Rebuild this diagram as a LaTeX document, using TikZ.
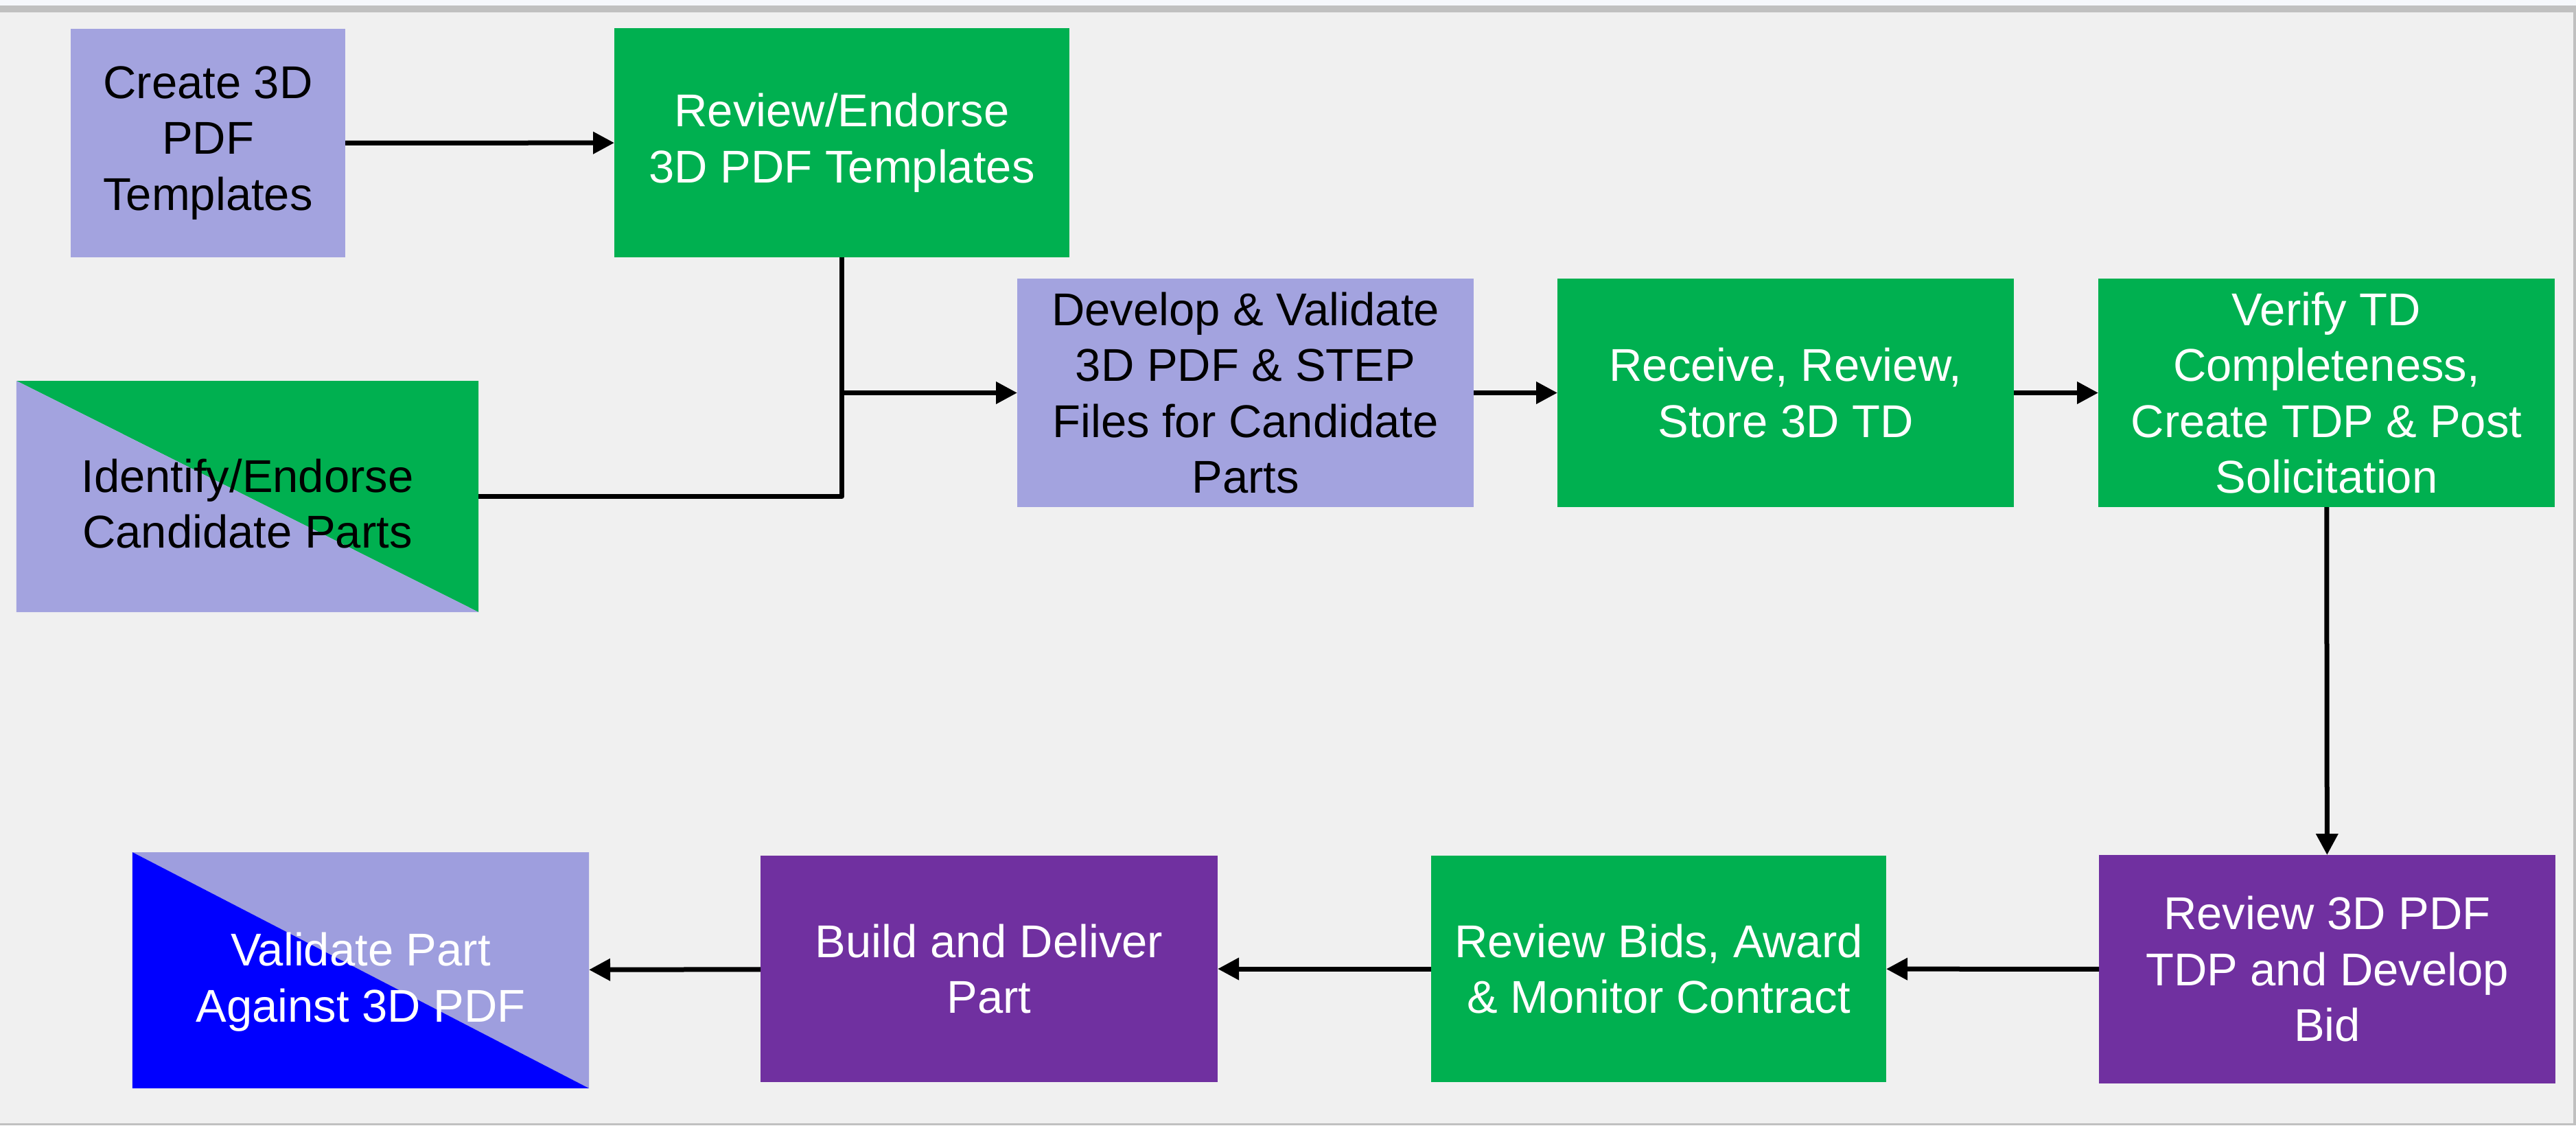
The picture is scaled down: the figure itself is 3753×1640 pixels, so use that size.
\documentclass[tikz,border=0pt]{standalone}
\usepackage{fontspec}
\setmainfont{Liberation Sans}
\usetikzlibrary{arrows.meta}
\definecolor{lav}{HTML}{A3A3DF}
\definecolor{lavb}{HTML}{9E9EDE}
\definecolor{grn}{HTML}{00B050}
\definecolor{pur}{HTML}{7030A0}
\definecolor{blu}{HTML}{0000FF}
\definecolor{bg}{HTML}{F0F0F0}
\definecolor{frame}{HTML}{C0C0C0}
\definecolor{topband}{HTML}{F5F7FB}
\newcommand{\lowtext}[1]{\raisebox{-3.6pt}[\height][\depth]{\begin{tabular}{@{}c@{}}#1\end{tabular}}}
\begin{document}
\begin{tikzpicture}[x=0.2pt,y=-0.2pt,
  box/.style={rectangle,inner sep=0pt,outer sep=0pt,align=center,
    font=\fontsize{13.4pt}{16.3pt}\selectfont,
    minimum width=133pt,minimum height=66.6pt},
  lavbox/.style={box,fill=lav,text=black},
  grnbox/.style={box,fill=grn,text=white},
  purbox/.style={box,fill=pur,text=white},
  conn/.style={line width=1.4pt,line join=round},
  arr/.style={conn,-{Triangle[length=6.2pt,width=6.2pt]}}]
\useasboundingbox (0,0) rectangle (3753,1640);
\fill[bg] (0,0) rectangle (3753,1640);
\fill[topband] (0,0) rectangle (3753,8);
\fill[frame] (0,8) rectangle (3753,18);
\fill[frame] (3749,8) rectangle (3753,1640);
\fill[frame] (0,1637) rectangle (3753,1640);

\node[lavbox,minimum width=80pt] (create) at (303,208.5) {Create 3D\\PDF\\Templates};
\node[grnbox,minimum width=132.6pt] (review) at (1226.5,208) {Review/Endorse\\3D PDF Templates};
\node[box,text=black,minimum width=134.6pt,minimum height=67.4pt,
  path picture={
    \fill[grn] (path picture bounding box.north west) -- (path picture bounding box.north east) -- (path picture bounding box.south east) -- cycle;
    \fill[lav] (path picture bounding box.north west) -- (path picture bounding box.south east) -- (path picture bounding box.south west) -- cycle;
  }] (identify) at (360.5,723.5) {\lowtext{Identify/Endorse\\Candidate Parts}};
\node[lavbox] (develop) at (1814.5,572.5) {Develop \& Validate\\3D PDF \& STEP\\Files for Candidate\\Parts};
\node[grnbox] (receive) at (2601.5,572.5) {Receive, Review,\\Store 3D TD};
\node[grnbox] (verify) at (3389.5,572.5) {Verify TD\\Completeness,\\Create TDP \& Post\\Solicitation};
\node[purbox] (rb) at (3390.5,1412.5) {Review 3D PDF\\TDP and Develop\\Bid};
\node[grnbox,minimum width=132.6pt,minimum height=66pt] (bids) at (2416.5,1412) {Review Bids, Award\\\& Monitor Contract};
\node[purbox,minimum width=133.2pt,minimum height=66pt] (build) at (1441,1412) {Build and Deliver\\Part};
\node[box,text=white,minimum height=68.8pt,
  path picture={
    \fill[lavb] (path picture bounding box.north west) -- (path picture bounding box.north east) -- (path picture bounding box.south east) -- cycle;
    \fill[blu] (path picture bounding box.north west) -- (path picture bounding box.south east) -- (path picture bounding box.south west) -- cycle;
  }] (validate) at (525.5,1414) {\lowtext{Validate Part\\Against 3D PDF}};

\draw[arr] (create) -- (review);
\draw[conn] (identify.east) -- (review.south |- identify.east) -- (review.south);
\draw[arr] (review.south |- develop.west) -- (develop.west);
\draw[arr] (develop) -- (receive);
\draw[arr] (receive) -- (verify);
\draw[arr] (verify) -- (rb);
\draw[arr] (rb) -- (bids);
\draw[arr] (bids) -- (build);
\draw[arr] (build) -- (validate);
\end{tikzpicture}
\end{document}
